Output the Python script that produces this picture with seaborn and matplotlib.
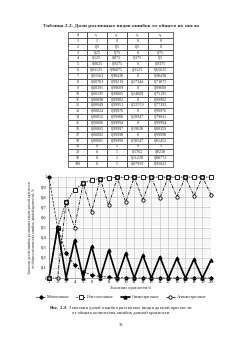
import pandas as pd
import seaborn as sns
import matplotlib.pyplot as plt
from matplotlib.ticker import MultipleLocator

# table 2.2 values
d_labels = ['1', '2', '3', '4', '5', '6', '7', '8', '9', '10', '11', '12', '13',
            '14', '15', '16', '17', '18', '19', '20', '50', '100']
mono = [1, 0.5, 0.25, 0.125, 0.0625, 0.03125, 0.01563, 0.00781, 0.00391, 0.00195,
        0.00098, 0.00049, 0.00024, 0.00012, 0.00006, 0.00003, 0.00002, 0.00001, 0, 0, 0, 0]
nonmono = [0, 0.5, 0.75, 0.875, 0.9375, 0.96875, 0.98438, 0.99219, 0.99609, 0.99805,
           0.99902, 0.99951, 0.99976, 0.99988, 0.99994, 0.99997, 0.99998, 0.99999, 1, 1, 1, 1]
sym = [0, 0.5, 0, 0.375, 0, 0.3125, 0, 0.27344, 0, 0.24609, 0, 0.22559, 0, 0.20947,
       0, 0.19638, 0, 0.18547, 0, 0.1762, 0.11228, 0.07959]
asym = [0, 0, 0.75, 0.5, 0.9375, 0.65625, 0.98438, 0.71875, 0.99609, 0.75195, 0.99902,
        0.77392, 0.99976, 0.79041, 0.99994, 0.80359, 0.99998, 0.81452, 1, 0.8238, 0.88772, 0.92041]
headers = ['d', 'ν₁', 'ν₂', 'ν₃', 'ν₄']
series_names = ['Монотонные', 'Немонотонные', 'Симметричные', 'Асимметричные']

sns.set_theme(style="white")
plt.rcParams['font.family'] = ['Liberation Serif', 'DejaVu Serif']
plt.rcParams['mathtext.fontset'] = 'stix'

fig = plt.figure(figsize=(2.42, 3.43), dpi=100)
fig.patch.set_facecolor('white')

W, H = 242.0, 343.0


def fx(px):
    return px / W


def fy(py):
    return 1 - py / H


def fmt(v):
    s = ('%.5f' % v).rstrip('0').rstrip('.')
    return s.replace('.', ',')


# ---- table ----
fig.text(fx(121), fy(26), 'Таблица 2.2. Доли различных видов ошибок от общего их числа',
         ha='center', va='center', fontsize=3.9, fontweight='bold')

tab_ax = fig.add_axes([fx(68), fy(167), fx(173) - fx(68), fy(32) - fy(167)])
tab_ax.axis('off')
cells = [[d_labels[i], fmt(mono[i]), fmt(nonmono[i]), fmt(sym[i]), fmt(asym[i])]
         for i in range(len(d_labels))]
tbl = tab_ax.table(cellText=cells, colLabels=headers, cellLoc='center',
                   bbox=[0, 0, 1, 1], colWidths=[19, 20, 20, 21, 25])
tbl.auto_set_font_size(False)
tbl.set_fontsize(3.0)
for key, cell in tbl.get_celld().items():
    cell.set_linewidth(0.45)
    cell.set_edgecolor('#222222')
    cell.PAD = 0.02

# ---- chart ----
n = 20
df = pd.DataFrame({
    'd': list(range(1, n + 1)) * 4,
    'value': mono[:n] + nonmono[:n] + sym[:n] + asym[:n],
    'kind': sum([[s] * n for s in series_names], []),
})

ax = fig.add_axes([fx(49), fy(278), fx(211) - fx(49), fy(177) - fy(278)])
styles = {
    'Монотонные': dict(marker='D', linestyle=(0, (3, 2)), linewidth=0.5, markersize=1.9,
                       markerfacecolor='black'),
    'Немонотонные': dict(marker='s', linestyle=(0, (1.5, 1.5)), linewidth=0.6, markersize=2.8,
                         markerfacecolor='white', markeredgewidth=0.6),
    'Симметричные': dict(marker='^', linestyle='-', linewidth=1.2, markersize=2.3,
                         markerfacecolor='black'),
    'Асимметричные': dict(marker='o', linestyle=(0, (4, 1.5, 1, 1.5)), linewidth=0.55,
                          markersize=2.4, markerfacecolor='white', markeredgewidth=0.6),
}
for name in series_names:
    sns.lineplot(data=df[df['kind'] == name], x='d', y='value', ax=ax, color='black',
                 label=name, clip_on=False, markeredgecolor='black', **styles[name])

ax.set_xlim(1, 20)
ax.set_ylim(0, 1)
ax.set_xticks(range(1, n + 1))
ax.set_xticklabels([str(v) for v in range(1, n + 1)])
yt = [i / 10 for i in range(11)]
ax.set_yticks(yt)
ax.set_yticklabels([fmt(v) for v in yt])
ax.yaxis.set_minor_locator(MultipleLocator(0.02))
ax.grid(True, which='major', color='#b5b5b5', linewidth=0.4)
ax.grid(True, which='minor', axis='y', color='#dcdcdc', linewidth=0.3)
ax.tick_params(axis='both', which='major', labelsize=3.3, length=0, pad=1.5,
               labelcolor='black', labelleft=True, labelbottom=True)
for s in ax.spines.values():
    s.set_visible(False)
ax.spines['left'].set_visible(True)
ax.spines['bottom'].set_visible(True)
ax.spines['left'].set_linewidth(0.4)
ax.spines['bottom'].set_linewidth(0.4)
ax.spines['left'].set_color('#555555')
ax.spines['bottom'].set_color('#555555')
ax.set_xlabel('Значение кратности d', fontsize=3.2, labelpad=1.5)
ax.set_ylabel('Значения долей ошибок различных видов данной кратности\n'
              'от общего количества ошибок данной кратности, %',
              fontsize=2.6, labelpad=2, linespacing=1.1)

ax.legend(loc='center', bbox_to_anchor=(fx(121), fy(297)), bbox_transform=fig.transFigure,
          ncol=4, fontsize=3.0, frameon=False, handlelength=2.2, handletextpad=0.4,
          columnspacing=1.6, borderpad=0)

# ---- caption ----
fig.text(fx(121), fy(307.5), r'$\bf{Рис.\ 2.5.}$ Значения долей ошибок различных видов данной кратности',
         ha='center', va='center', fontsize=3.4)
fig.text(fx(121), fy(313), 'от общего количества ошибок данной кратности',
         ha='center', va='center', fontsize=3.4)
fig.text(fx(121), fy(325), '33', ha='center', va='center', fontsize=3.4)

plt.savefig('out.png', dpi=100, facecolor='white')
